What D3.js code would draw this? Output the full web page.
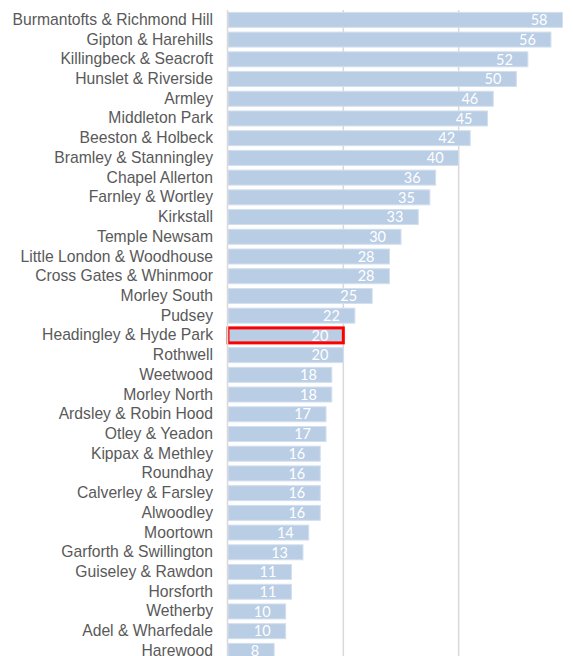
<!DOCTYPE html>
<html>
  <head>
    <meta charset="utf-8">
    <title>Leeds wards</title>
    <script src="https://cdn.jsdelivr.net/npm/d3@7"></script>
    <style>
      body { margin: 0; background: #fff; }
      #chart { display: block; }
      .cat text { font-family: "Liberation Sans", Arial, sans-serif; font-size: 15.7px; fill: #595959; }
      .val { font-family: Lato, "Open Sans", sans-serif; font-size: 14.5px; fill: #fff; }
    </style>
  </head>
  <body>
    <svg id="chart" width="573" height="656"></svg>
    <script>
      // chart data
      wards = ["Burmantofts & Richmond Hill", "Gipton & Harehills", "Killingbeck & Seacroft",
        "Hunslet & Riverside", "Armley", "Middleton Park", "Beeston & Holbeck",
        "Bramley & Stanningley", "Chapel Allerton", "Farnley & Wortley", "Kirkstall",
        "Temple Newsam", "Little London & Woodhouse", "Cross Gates & Whinmoor",
        "Morley South", "Pudsey", "Headingley & Hyde Park", "Rothwell", "Weetwood",
        "Morley North", "Ardsley & Robin Hood", "Otley & Yeadon", "Kippax & Methley",
        "Roundhay", "Calverley & Farsley", "Alwoodley", "Moortown",
        "Garforth & Swillington", "Guiseley & Rawdon", "Horsforth", "Wetherby",
        "Adel & Wharfedale", "Harewood"];
      values = [58, 56, 52, 50, 46, 45, 42, 40, 36, 35, 33, 30, 28, 28, 25, 22, 20, 20,
        18, 18, 17, 17, 16, 16, 16, 16, 14, 13, 11, 11, 10, 10, 8];
      gridTicks = [20, 40, 60];
      highlight = "Headingley & Hyde Park";

      chartData = wards.map(function(d, i) {
        return { ward: d, value: values[i] };
      });

      chart = d3.select("#chart");

      x = d3.scaleLinear()
        .domain([0, 60])
        .range([228, 574]);
      y = d3.scaleBand()
        .domain(wards)
        .range([10, 10 + wards.length * 19.72])
        .paddingInner(0.24)
        .paddingOuter(0.12);

      // gridlines behind bars
      chart.append("g")
        .selectAll("line")
        .data(gridTicks)
        .join("line")
          .attr("x1", function(d) { return x(d); })
          .attr("x2", function(d) { return x(d); })
          .attr("y1", 10)
          .attr("y2", 656)
          .attr("stroke", "#d9d9d9")
          .attr("stroke-width", 1.5);

      // bars
      bars = chart.append("g")
        .selectAll("rect")
        .data(chartData)
        .join("rect")
          .attr("x", x(0))
          .attr("y", function(d) { return y(d.ward); })
          .attr("width", function(d) { return x(d.value) - x(0); })
          .attr("height", y.bandwidth())
          .attr("fill", "#b9cde5")
          .attr("stroke", "#d3dfee")
          .attr("stroke-width", 1);

      // highlight box
      hd = chartData.find(function(d) { return d.ward === highlight; });
      chart.append("rect")
        .attr("x", x(0))
        .attr("y", y(hd.ward))
        .attr("width", x(hd.value) - x(0))
        .attr("height", y.bandwidth())
        .attr("fill", "none")
        .attr("stroke", "#ff0000")
        .attr("stroke-width", 3);

      // value labels
      chart.append("g")
        .selectAll("text")
        .data(chartData)
        .join("text")
          .classed("val", true)
          .attr("x", function(d) { return x(d.value) - 15; })
          .attr("y", function(d) { return y(d.ward) + y.bandwidth() / 2; })
          .attr("dy", "0.36em")
          .attr("text-anchor", "end")
          .text(function(d) { return d.value; });

      // category axis
      yAxis = d3.axisLeft(y)
        .tickSize(0)
        .tickPadding(15);
      chart.append("g")
        .classed("cat", true)
        .attr("transform", "translate(" + x(0) + ", 0)")
        .call(yAxis)
        .call(function(g) { g.select(".domain").remove(); });

      chart.append("line")
        .attr("x1", x(0) - 0.5)
        .attr("x2", x(0) - 0.5)
        .attr("y1", 10)
        .attr("y2", 656)
        .attr("stroke", "#d9d9d9")
        .attr("stroke-width", 1.5);
    </script>
  </body>
</html>
